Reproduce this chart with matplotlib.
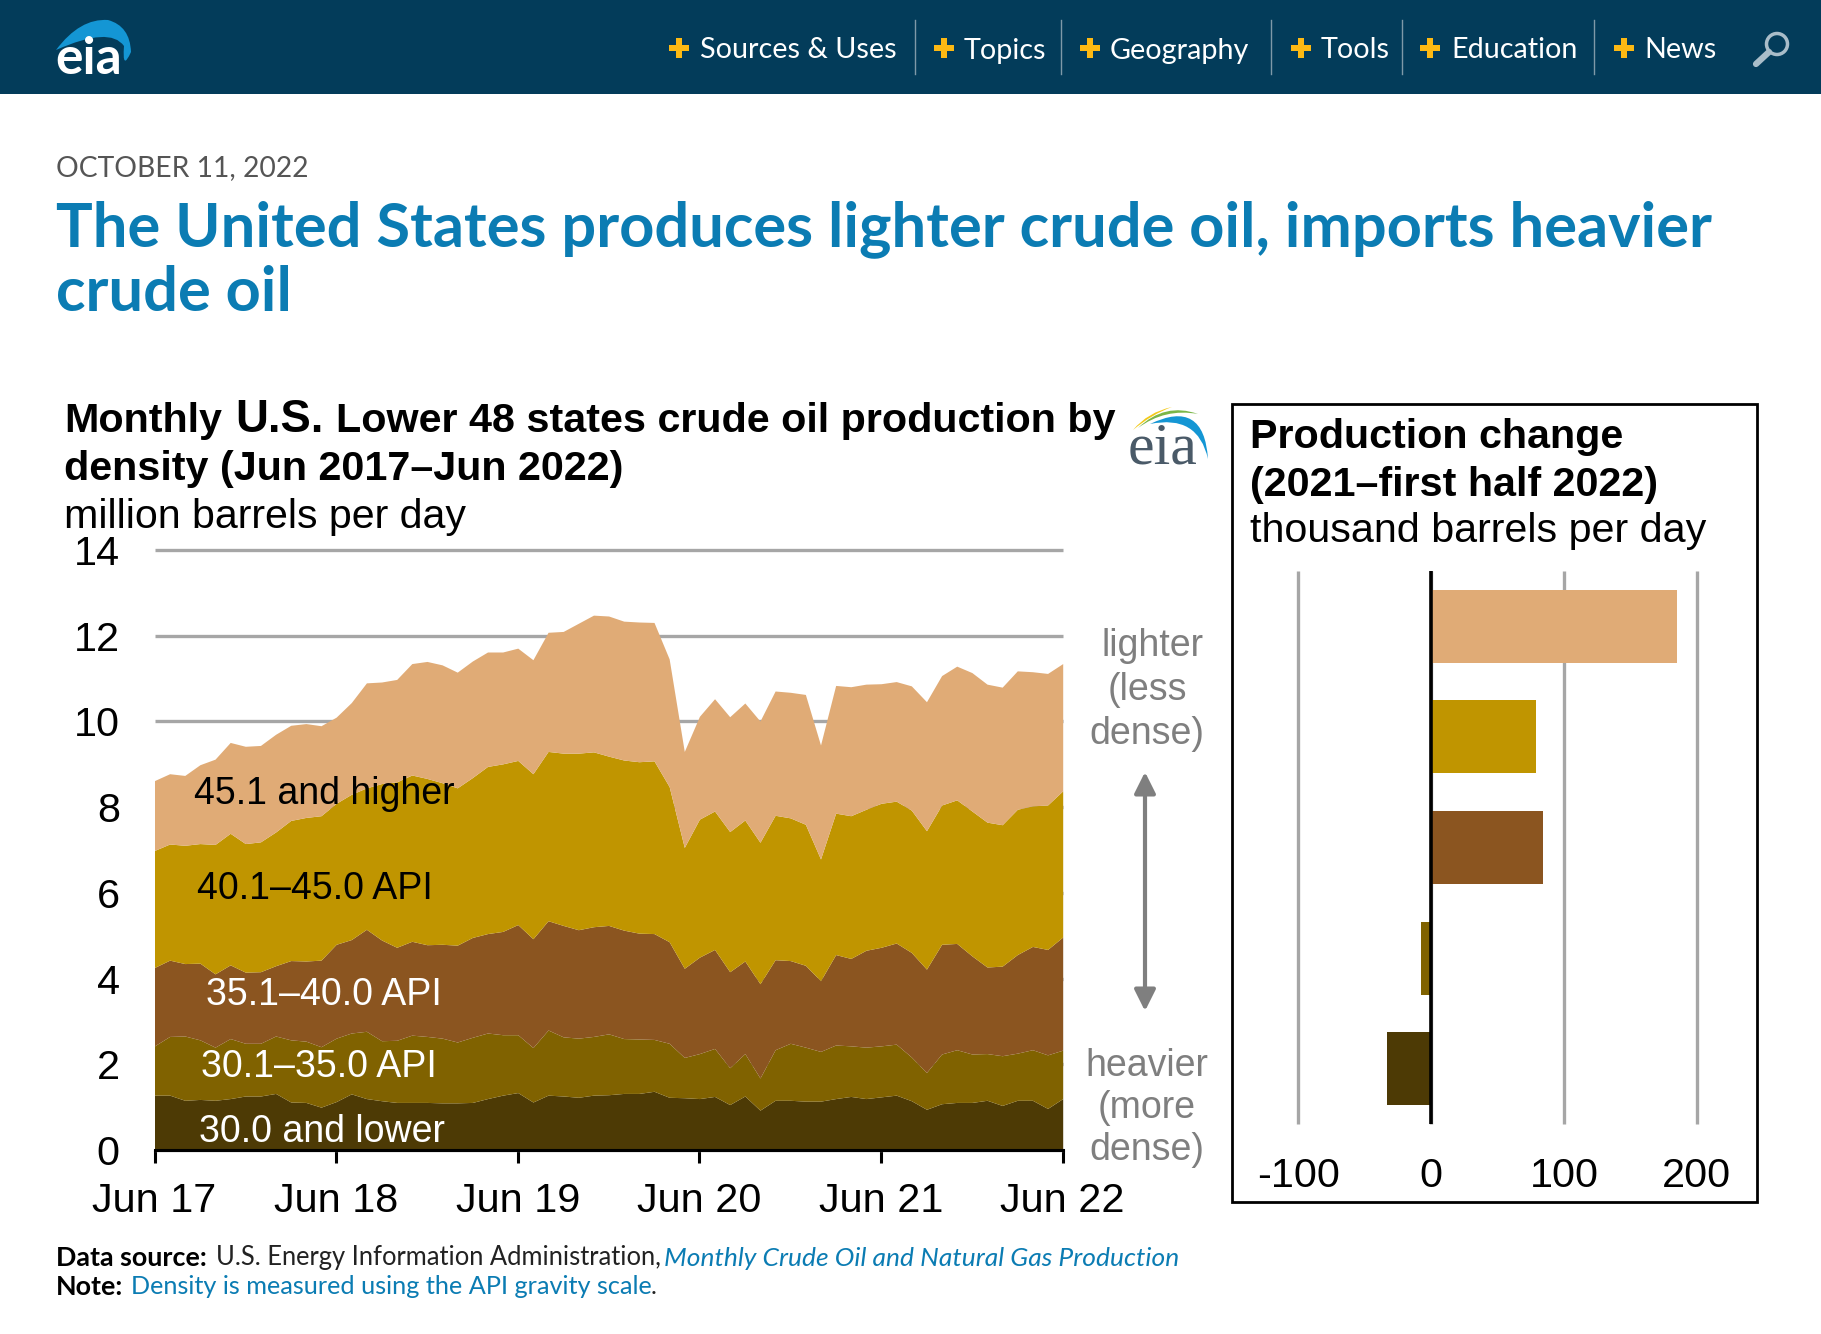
import numpy as np
import matplotlib
matplotlib.use('Agg')
import matplotlib.pyplot as plt
from matplotlib.patches import Rectangle, PathPatch, Circle
from matplotlib.path import Path

# Monthly data, Jun 2017 - Jun 2022. Each list is the top edge of that band (cumulative, million b/d)
top_lower30 = [1.28, 1.28, 1.16, 1.18, 1.16, 1.20, 1.26, 1.26, 1.32, 1.12, 1.11, 1.00, 1.13, 1.31, 1.20, 1.15,
               1.11, 1.11, 1.11, 1.10, 1.10, 1.11, 1.20, 1.28, 1.34, 1.12, 1.28, 1.26, 1.23, 1.28, 1.29,
               1.32, 1.32, 1.37, 1.23, 1.22, 1.20, 1.25, 1.06, 1.26, 0.93, 1.16, 1.16, 1.14, 1.14, 1.20,
               1.25, 1.20, 1.24, 1.28, 1.15, 0.95, 1.08, 1.11, 1.11, 1.16, 1.04, 1.16, 1.16, 0.97, 1.20]
top_30_35 = [2.43, 2.65, 2.66, 2.57, 2.40, 2.60, 2.49, 2.49, 2.66, 2.57, 2.54, 2.41, 2.61, 2.73, 2.77, 2.55,
             2.56, 2.68, 2.65, 2.61, 2.52, 2.63, 2.73, 2.69, 2.69, 2.39, 2.80, 2.64, 2.61, 2.65, 2.71,
             2.60, 2.59, 2.58, 2.49, 2.16, 2.25, 2.37, 1.92, 2.25, 1.68, 2.34, 2.49, 2.40, 2.30, 2.45,
             2.43, 2.40, 2.43, 2.47, 2.17, 1.81, 2.24, 2.34, 2.24, 2.25, 2.20, 2.26, 2.34, 2.22, 2.33]
top_35_40 = [4.26, 4.43, 4.35, 4.36, 4.11, 4.32, 4.15, 4.16, 4.30, 4.42, 4.41, 4.43, 4.80, 4.91, 5.15, 4.90,
             4.73, 4.87, 4.79, 4.80, 4.78, 4.96, 5.05, 5.10, 5.26, 4.93, 5.35, 5.24, 5.14, 5.21, 5.24,
             5.13, 5.06, 5.05, 4.86, 4.24, 4.50, 4.68, 4.16, 4.41, 3.88, 4.44, 4.42, 4.31, 3.95, 4.56,
             4.47, 4.66, 4.73, 4.83, 4.61, 4.22, 4.80, 4.82, 4.53, 4.27, 4.29, 4.56, 4.75, 4.68, 4.97]
top_40_45 = [6.99, 7.14, 7.11, 7.15, 7.13, 7.39, 7.15, 7.19, 7.42, 7.69, 7.76, 7.80, 8.09, 8.30, 8.45, 8.55,
             8.59, 8.75, 8.67, 8.57, 8.45, 8.69, 8.95, 9.01, 9.09, 8.78, 9.30, 9.26, 9.26, 9.29, 9.19,
             9.10, 9.06, 9.08, 8.48, 7.06, 7.72, 7.91, 7.43, 7.70, 7.18, 7.81, 7.75, 7.60, 6.79, 7.86,
             7.80, 7.95, 8.09, 8.14, 7.93, 7.45, 8.05, 8.17, 7.91, 7.65, 7.59, 7.95, 8.03, 8.05, 8.38]
top_total = [8.62, 8.78, 8.74, 8.99, 9.12, 9.51, 9.42, 9.44, 9.70, 9.91, 9.95, 9.90, 10.10, 10.44, 10.90, 10.92,
             10.98, 11.35, 11.40, 11.32, 11.15, 11.41, 11.62, 11.62, 11.71, 11.44, 12.08, 12.10, 12.29, 12.48, 12.46,
             12.34, 12.32, 12.31, 11.46, 9.30, 10.12, 10.53, 10.11, 10.43, 10.01, 10.71, 10.68, 10.63, 9.45, 10.84,
             10.81, 10.87, 10.88, 10.93, 10.83, 10.46, 11.07, 11.29, 11.14, 10.87, 10.80, 11.18, 11.16, 11.12, 11.35]

band_colors = ['#4d3a05', '#806200', '#8b5520', '#c09500', '#e0ab76']
year_ticks = [0, 12, 24, 36, 48, 60]
year_labels = ['Jun 17', 'Jun 18', 'Jun 19', 'Jun 20', 'Jun 21', 'Jun 22']
density_ticks = [0, 2, 4, 6, 8, 10, 12, 14]

# Production change panel, lightest to heaviest (thousand b/d)
change_values = [185, 79, 84, -8, -33]
change_colors = ['#e0ab76', '#c09500', '#8b5520', '#806200', '#4d3a05']
change_ticks = [-100, 0, 100, 200]

W, H = 1821, 1334
ARIAL = 'Liberation Sans'
WEB = 'Lato'
NAVY = '#033c5a'
LINK = '#0b7cb3'
GRID = '#a6a6a6'


def px_axes(fig, x0, y0, x1, y1, **kw):
    return fig.add_axes([x0 / W, 1 - y1 / H, (x1 - x0) / W, (y1 - y0) / H], **kw)


fig = plt.figure(figsize=(W / 100, H / 100), dpi=100, facecolor='white')

# Left chart
ax = px_axes(fig, 154.5, 550, 1062.7, 1150)
months = np.arange(len(top_total))
bands = [top_lower30, top_30_35, top_35_40, top_40_45, top_total]
bottom = np.zeros(len(months))
for top, color in zip(bands, band_colors):
    ax.fill_between(months, bottom, top, color=color, lw=0, zorder=2)
    bottom = np.array(top)
ax.set_xlim(0, 60)
ax.set_ylim(0, 14)
ax.set_yticks(density_ticks)
ax.set_xticks(year_ticks)
ax.set_xticklabels(year_labels)
ax.grid(axis='y', color=GRID, lw=2.4, zorder=1, clip_on=False, solid_capstyle='butt')
ax.set_axisbelow(True)
for s in ['top', 'left', 'right']:
    ax.spines[s].set_visible(False)
ax.spines['bottom'].set_linewidth(2.2)
ax.tick_params(axis='y', length=0, pad=25, labelsize=29.8)
ax.tick_params(axis='x', length=9, width=2.2, pad=14, labelsize=29.8)
for lab in ax.get_xticklabels() + ax.get_yticklabels():
    lab.set_fontfamily(ARIAL)

band_text = [(2.6, 8.30, '45.1 and higher', 'black'),
             (2.84, 6.08, '40.1–45.0 API', 'black'),
             (3.37, 3.61, '35.1–40.0 API', 'white'),
             (3.07, 1.93, '30.1–35.0 API', 'white'),
             (2.91, 0.41, '30.0 and lower', 'white')]
for x, y, txt, c in band_text:
    ax.text(x, y, txt, color=c, fontsize=27, family=ARIAL, va='center', ha='left', zorder=5)

# Right chart
ax2 = px_axes(fig, 1298.4, 571, 1696.8, 1124)
ypos = np.arange(len(change_values))
ax2.barh(ypos, change_values, height=0.66, color=change_colors, zorder=2)
ax2.set_xlim(-100, 200)
ax2.set_ylim(4.5, -0.5)
ax2.set_xticks(change_ticks)
ax2.set_yticks([])
ax2.grid(axis='x', color=GRID, lw=2.4, zorder=1, clip_on=False, solid_capstyle='butt')
ax2.axvline(0, color='black', lw=2.6, zorder=3, solid_capstyle='butt')
for s in ax2.spines.values():
    s.set_visible(False)
ax2.tick_params(axis='x', length=0, pad=23.5, labelsize=29.8)
for lab in ax2.get_xticklabels():
    lab.set_fontfamily(ARIAL)
ax2.patch.set_alpha(0)
ax2.set_xticklabels(['-100', '0', '100', '200'])

# Page furniture, drawn in pixel coordinates
page = fig.add_axes([0, 0, 1, 1], zorder=10)
page.set_xlim(0, W)
page.set_ylim(H, 0)
page.axis('off')
page.add_patch(Rectangle((0, 0), W, 94, color=NAVY, lw=0))
page.add_patch(Rectangle((1232, 404), 525, 798, fill=False, ec='black', lw=2))

nav = [('Sources & Uses', 679, 700), ('Topics', 944, 964), ('Geography', 1090, 1110),
       ('Tools', 1301, 1321), ('Education', 1430, 1451), ('News', 1624, 1644)]
for name, px, tx in nav:
    page.plot(px, 48, marker='P', ms=14, color='#fdb913', mew=0)
    page.text(tx, 50.5, name, color='white', fontsize=20.7, family=WEB, va='center', ha='left')
for sx in [915, 1061, 1271, 1402, 1594]:
    page.plot([sx, sx], [20, 74], color='#7f99a8', lw=1)

# search icon
page.add_patch(Circle((1777, 44), 10.5, fill=False, ec='#a9bdc9', lw=2.5))
page.plot([1769, 1756], [52, 64], color='#a9bdc9', lw=4.5, solid_capstyle='round')

# header logo
arc = Path([(56, 50), (80, 18), (108, 20), (130, 26), (131, 52), (122, 72), (124, 46), (110, 26), (56, 50)],
           [Path.MOVETO, Path.CURVE3, Path.CURVE3, Path.CURVE3, Path.CURVE3, Path.CURVE3, Path.CURVE3, Path.CURVE3,
            Path.CURVE3])
page.add_patch(PathPatch(arc, fc='#1496d4', lw=0))
page.text(55, 74, 'eia', color='white', fontsize=37, family=WEB, weight='bold', va='baseline', ha='left')

page.text(56, 168.5, 'OCTOBER 11, 2022', color='#555555', fontsize=20.3, family=WEB, va='center', ha='left')
page.text(56, 229.5, 'The United States produces lighter crude oil, imports heavier', color=LINK, fontsize=44.2,
          family=WEB, weight='bold', va='center', ha='left')
page.text(56, 293, 'crude oil', color=LINK, fontsize=44.2, family=WEB, weight='bold', va='center', ha='left')

# left chart title
page.text(64, 421.5, 'Monthly', fontsize=29.7, family=ARIAL, weight='bold', va='center', ha='left')
page.text(235, 420, 'U.S.', fontsize=32.8, family=ARIAL, weight='bold', va='center', ha='left')
page.text(336, 421.5, 'Lower 48 states crude oil production by', fontsize=29.7, family=ARIAL, weight='bold',
          va='center', ha='left')
page.text(64, 469.5, 'density (Jun 2017–Jun 2022)', fontsize=29.7, family=ARIAL, weight='bold', va='center', ha='left')
page.text(64, 517.5, 'million barrels per day', fontsize=29.6, family=ARIAL, va='center', ha='left')

# small eia logo
for c, pts in [('#f2c919', [(1133, 430), (1148, 412), (1172, 407), (1152, 414), (1133, 430)]),
               ('#7ab648', [(1138, 428), (1165, 402), (1198, 414), (1165, 408), (1138, 428)]),
               ('#1496d4', [(1150, 424), (1204, 398), (1208, 459), (1198, 414), (1150, 424)])]:
    p = Path(pts, [Path.MOVETO, Path.CURVE3, Path.CURVE3, Path.CURVE3, Path.CURVE3])
    page.add_patch(PathPatch(p, fc=c, lw=0))
page.text(1128, 464, 'eia', color='#4a5a68', fontsize=43, family='Liberation Serif', va='baseline', ha='left')

# right chart title
page.text(1250, 436.5, 'Production change', fontsize=29.7, family=ARIAL, weight='bold', va='center', ha='left')
page.text(1250, 484.5, '(2021–first half 2022)', fontsize=29.7, family=ARIAL, weight='bold', va='center', ha='left')
page.text(1250, 531.5, 'thousand barrels per day', fontsize=29.7, family=ARIAL, va='center', ha='left')

# density labels and arrow
for x, y, txt in [(1153, 646.5, 'lighter'), (1147, 690.5, '(less'), (1147, 733.5, 'dense)'),
                  (1147, 1066.5, 'heavier'), (1147, 1108.5, '(more'), (1147, 1150.5, 'dense)')]:
    page.text(x, y, txt, color='#7f7f7f', fontsize=27, family=ARIAL, va='center', ha='center')
page.annotate('', xy=(1145, 772), xytext=(1145, 1011),
              arrowprops=dict(arrowstyle='<|-|>', color='#7f7f7f', lw=3, mutation_scale=32, shrinkA=0, shrinkB=0))

# footer
page.text(56, 1258, 'Data source:', fontsize=19.4, family=WEB, weight='bold', va='center', ha='left')
page.text(216, 1258, 'U.S. Energy Information Administration,', color='#222222', fontsize=18.4, family=WEB, va='center',
          ha='left')
page.text(664, 1258, 'Monthly Crude Oil and Natural Gas Production', color=LINK, fontsize=19, family=WEB,
          style='italic', va='center', ha='left')
page.text(56, 1287, 'Note:', fontsize=19.4, family=WEB, weight='bold', va='center', ha='left')
page.text(131, 1287, 'Density is measured using the API gravity scale', color=LINK, fontsize=18.2, family=WEB,
          va='center', ha='left')
page.text(651, 1287, '.', color='#222222', fontsize=18.2, family=WEB, va='center', ha='left')

fig.savefig('out.png', dpi=100, facecolor='white')
